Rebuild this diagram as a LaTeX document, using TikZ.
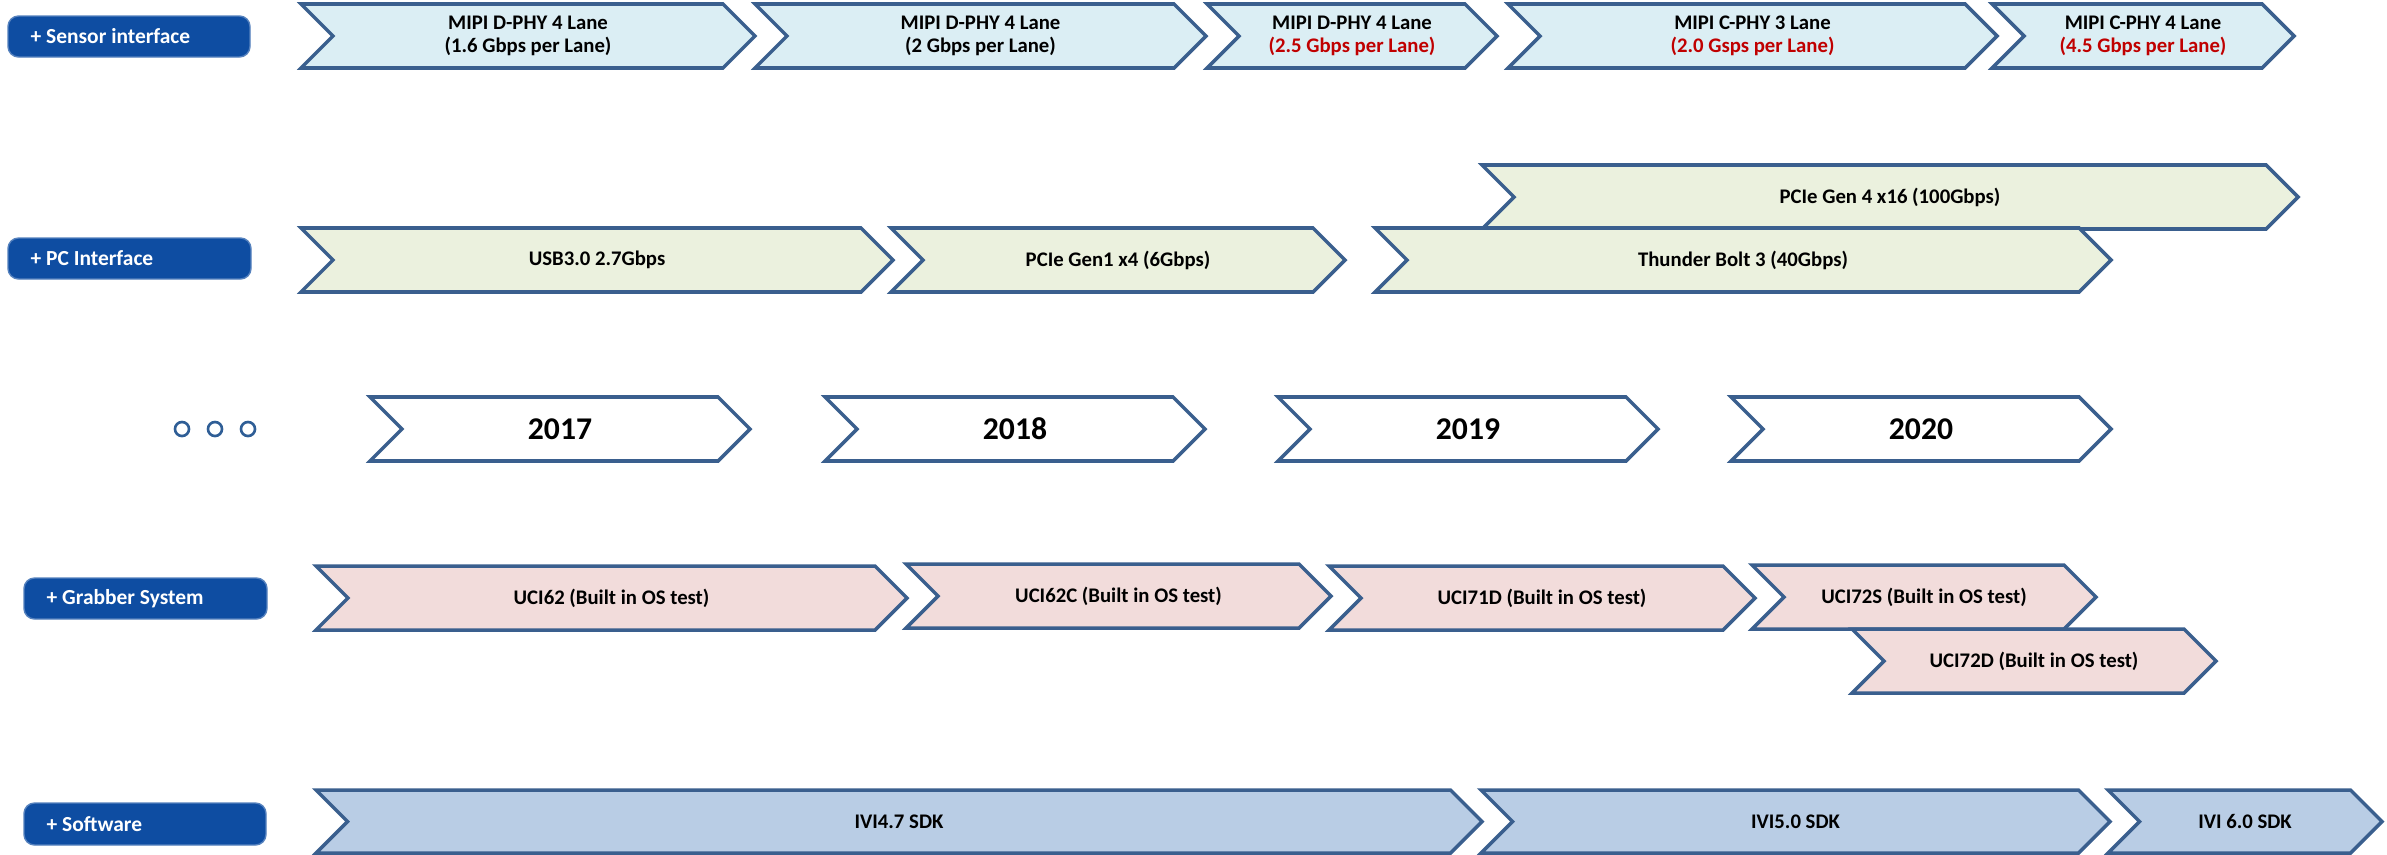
\documentclass[tikz,border=0pt]{standalone}
\usepackage{fontspec}
\setmainfont{Carlito}
\definecolor{outl}{HTML}{3A5F8E}
\definecolor{pillc}{HTML}{0E4DA2}
\definecolor{sensf}{HTML}{DBEEF4}
\definecolor{pcf}{HTML}{EBF1DE}
\definecolor{grabf}{HTML}{F2DCDB}
\definecolor{swf}{HTML}{B9CDE5}
\definecolor{redt}{HTML}{C00000}
\definecolor{dotc}{HTML}{2F5E96}
% #1 extra node style, #2 name, #3 x left, #4 x tip, #5 y top, #6 y bottom, #7 fill, #8 text
\newcommand\chev[8][]{%
  \pgfmathsetmacro\chd{(#6-#5)/2}%
  \draw[chevbase,fill=#7] (#3,#5) -- ({#4-\chd},#5) -- (#4,{(#5+#6)/2}) -- ({#4-\chd},#6) -- (#3,#6) -- ({#3+\chd},{(#5+#6)/2}) -- cycle;
  \node[lbl,#1] (#2) at ({(#3+#4)/2},{(#5+#6)/2}) {#8};
}
\newcommand\pill[6]{%
  \draw[pillbox] (#2,#4) rectangle (#3,#5);
  \node[pilltext] (#1) at ({#2+22},{(#4+#5)/2}) {#6};
}
\begin{document}
\begin{tikzpicture}[x=0.01cm,y=-0.01cm,
  chevbase/.style={draw=outl,line width=1pt,line join=miter},
  lbl/.style={font=\bfseries\fontsize{5.9}{6.5}\selectfont,align=center,text=black,inner sep=0pt},
  yearlbl/.style={font=\bfseries\fontsize{9}{10}\selectfont},
  pillbox/.style={fill=pillc,draw=pillc!70!white,line width=0.4pt,rounded corners=3pt},
  pilltext/.style={font=\bfseries\fontsize{6.1}{7}\selectfont,text=white,anchor=west,inner sep=0pt},
  dotnode/.style={circle,draw=dotc,line width=0.75pt,minimum size=0.14cm,inner sep=0pt}]
\useasboundingbox[fill=white] (0,0) rectangle (2387,854);

% pills
\pill{p1}{8}{250}{16}{57}{+ Sensor interface}
\pill{p2}{8}{251}{238}{279}{+ PC Interface}
\pill{p3}{24}{267}{578}{619}{+ Grabber System}
\pill{p4}{24}{266}{803}{845}{+ Software}

% sensor row
\chev{s1}{301}{755}{4}{68}{sensf}{MIPI D-PHY 4 Lane\\(1.6 Gbps per Lane)}
\chev{s2}{755}{1206}{4}{68}{sensf}{MIPI D-PHY 4 Lane\\(2 Gbps per Lane)}
\chev{s3}{1207}{1497}{4}{68}{sensf}{MIPI D-PHY 4 Lane\\\textcolor{redt}{(2.5 Gbps per Lane)}}
\chev{s4}{1508}{1997}{4}{68}{sensf}{MIPI C-PHY 3 Lane\\\textcolor{redt}{(2.0 Gsps per Lane)}}
\chev{s5}{1992}{2294}{4}{68}{sensf}{MIPI C-PHY 4 Lane\\\textcolor{redt}{(4.5 Gbps per Lane)}}

% PC row
\chev{c4}{1482}{2298}{165}{229}{pcf}{PCIe Gen 4 x16 (100Gbps)}
\chev{c1}{301}{893}{228}{292}{pcf}{USB3.0 2.7Gbps}
\chev{c2}{891}{1345}{228}{292}{pcf}{PCIe Gen1 x4 (6Gbps)}
\chev{c3}{1375}{2111}{228}{292}{pcf}{Thunder Bolt 3 (40Gbps)}

% years
\node[dotnode] (d1) at (182,429) {};
\node[dotnode] (d2) at (215,429) {};
\node[dotnode] (d3) at (248,429) {};
\chev[yearlbl]{y1}{370}{750}{397}{461}{white}{2017}
\chev[yearlbl]{y2}{825}{1205}{397}{461}{white}{2018}
\chev[yearlbl]{y3}{1278}{1658}{397}{461}{white}{2019}
\chev[yearlbl]{y4}{1731}{2111}{397}{461}{white}{2020}

% grabber row
\chev{g1}{316}{907}{566}{630}{grabf}{UCI62 (Built in OS test)}
\chev{g2}{906}{1331}{564}{628}{grabf}{UCI62C (Built in OS test)}
\chev{g3}{1329}{1755}{566}{630}{grabf}{UCI71D (Built in OS test)}
\chev{g4}{1752}{2096}{565}{629}{grabf}{UCI72S (Built in OS test)}
\chev{g5}{1852}{2216}{629}{693}{grabf}{UCI72D (Built in OS test)}

% software row
\chev{v1}{316}{1482}{790}{853}{swf}{IVI4.7 SDK}
\chev{v2}{1481}{2110}{790}{853}{swf}{IVI5.0 SDK}
\chev{v3}{2108}{2382}{790}{853}{swf}{IVI 6.0 SDK}
\end{tikzpicture}
\end{document}
